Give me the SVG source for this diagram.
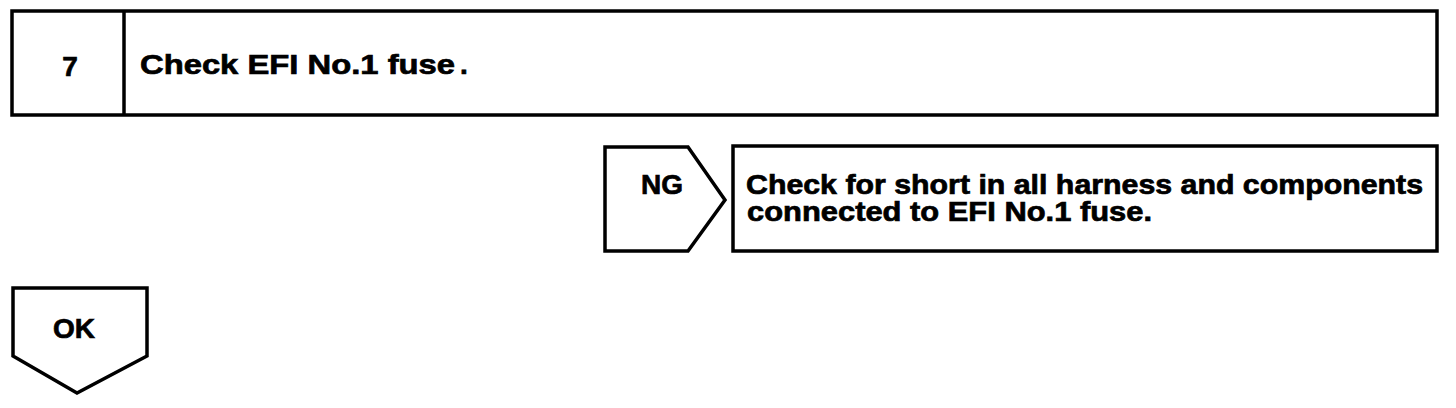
<svg xmlns="http://www.w3.org/2000/svg" width="1456" height="408" viewBox="0 0 1456 408">
<style>
.box{fill:#fff;stroke:#000;stroke-width:3.5;stroke-linejoin:miter}
.t{font-family:"Liberation Sans",Arial,sans-serif;font-weight:bold;font-size:28px;fill:#000;stroke:#000;stroke-width:0.7}
.b{font-size:27px}
</style>
<rect width="1456" height="408" fill="#fff"/>
<g id="step7">
<rect class="box" x="12" y="11" width="1425" height="104"/>
<line x1="124" y1="11" x2="124" y2="115" stroke="#000" stroke-width="3.5"/>
<text class="t" x="70" y="76" text-anchor="middle">7</text>
<text class="t" x="140" y="74" textLength="315" lengthAdjust="spacingAndGlyphs">Check EFI No.1 fuse</text>
<text class="t" x="460" y="74">.</text>
</g>
<g id="ng">
<polygon class="box" points="605,147 688,147 725,200 688,251 605,251"/>
<text class="t" x="662" y="194" text-anchor="middle">NG</text>
</g>
<g id="ng-action">
<rect class="box" x="733" y="146" width="704" height="105"/>
<text class="t b" x="746" y="194" textLength="677" lengthAdjust="spacingAndGlyphs">Check for short in all harness and components</text>
<text class="t b" x="747" y="221" textLength="405" lengthAdjust="spacingAndGlyphs">connected to EFI No.1 fuse.</text>
</g>
<g id="ok">
<polygon class="box" points="13,288 147,288 147,356 77,393 13,356"/>
<text class="t" x="74" y="338" text-anchor="middle">OK</text>
</g>
<g id="connectors"></g>
</svg>
